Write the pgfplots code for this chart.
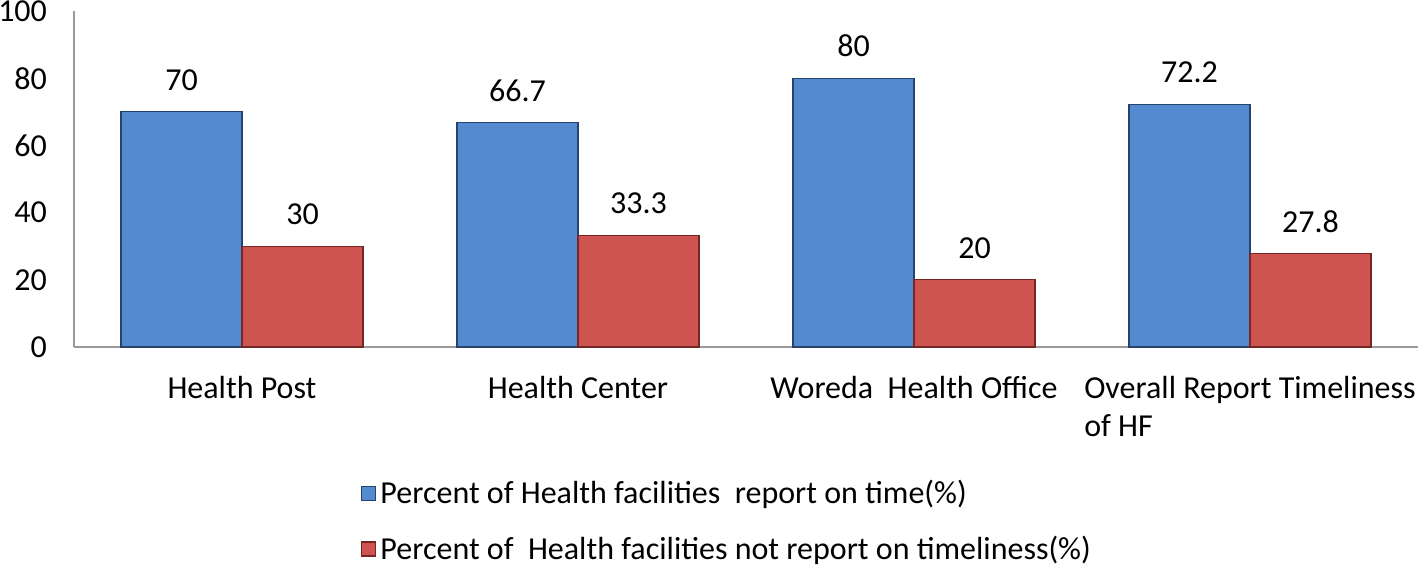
\documentclass[border=0pt]{standalone}
\usepackage{fontspec}
\setmainfont{Carlito}
\usepackage{pgfplots}
\pgfplotsset{compat=1.18}
\definecolor{barblue}{RGB}{84,139,208}
\definecolor{barblueD}{RGB}{38,66,110}
\definecolor{barred}{RGB}{206,84,81}
\definecolor{barredD}{RGB}{115,38,36}
\newcommand{\f}{\fontsize{16}{19}\selectfont}
\begin{document}
\begin{tikzpicture}
\begin{axis}[
  name=main,
  width=672pt, height=168pt, scale only axis,
  xmin=-0.5, xmax=3.5, ymin=0, ymax=100,
  ybar=0pt, bar width=60.5pt,
  axis x line*=bottom, axis y line*=left,
  axis line style={draw=gray!80, line width=0.8pt},
  major tick length=0pt,
  xtick={0,1,2,3},
  xticklabels={Health Post, Health Center, Woreda\ \ Health Office, {Overall Report Timeliness\\of HF}},
  xticklabel style={align=left, anchor=north, yshift=-11pt, font=\f},
  ytick={0,20,...,100},
  yticklabel style={xshift=-10pt, font=\f},
  /pgf/number format/assume math mode=true,
  nodes near coords,
  nodes near coords style={font=\f, yshift=7pt, text=black},
  legend style={at={(0.209,-0.372)}, anchor=north west, draw=none, font=\f, row sep=10.5pt, cells={anchor=west}},
  legend image code/.code={\fill[#1] (0pt,-3.5pt) rectangle (7pt,3.5pt);},
  clip=false,
]
\addplot[fill=barblue, draw=barblueD, line width=0.6pt] coordinates {(0,70) (1,66.7) (2,80) (3,72.2)};
\addplot[fill=barred, draw=barredD, line width=0.6pt] coordinates {(0,30) (1,33.3) (2,20) (3,27.8)};
\legend{Percent of Health facilities\ \ report on time(\%), Percent of\ \ Health facilities not report on timeliness(\%)}
\end{axis}
\pgfresetboundingbox
\path (main.south west) ++(-37pt,-109pt) coordinate (bbA);
\path (main.north east) ++(0pt,5.5pt) coordinate (bbB);
\path[use as bounding box] (bbA) rectangle (bbB);
\end{tikzpicture}
\end{document}
